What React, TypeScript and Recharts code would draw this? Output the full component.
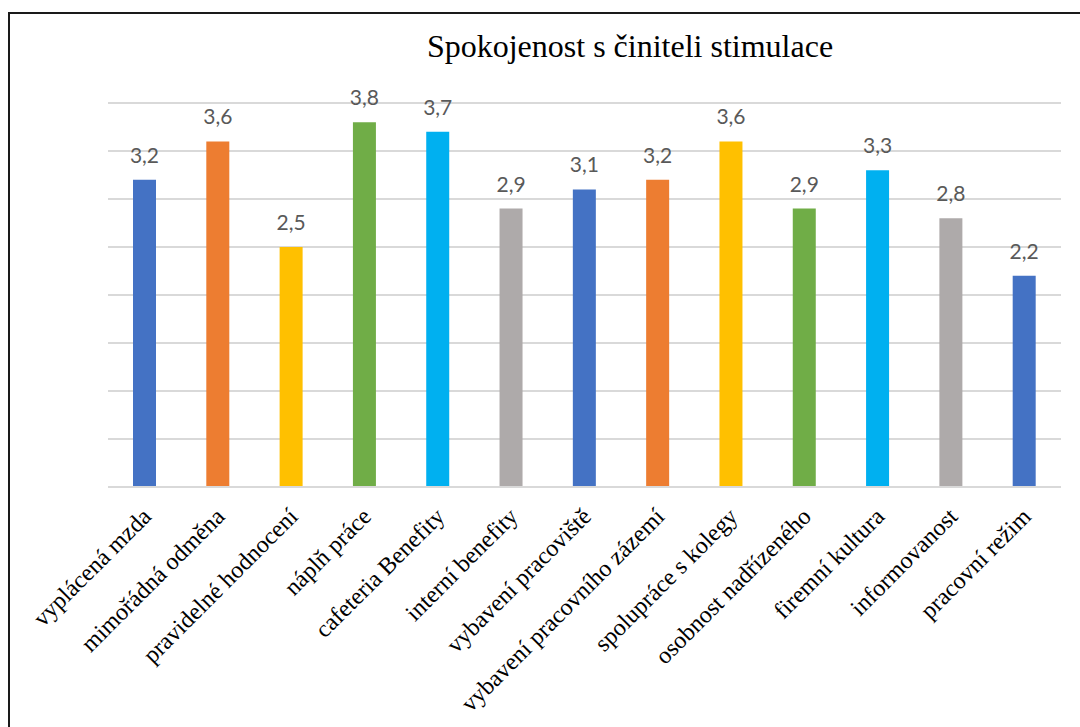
import React from 'react';
import { BarChart, Bar, XAxis, YAxis, CartesianGrid, LabelList, Cell } from 'recharts';

const categories = [
  'vyplácená mzda',
  'mimořádná odměna',
  'pravidelné hodnocení',
  'náplň práce',
  'cafeteria Benefity',
  'interní benefity',
  'vybavení pracoviště',
  'vybavení pracovního zázemí',
  'spolupráce s kolegy',
  'osobnost nadřízeného',
  'firemní kultura',
  'informovanost',
  'pracovní režim',
];

const scores = [3.2, 3.6, 2.5, 3.8, 3.7, 2.9, 3.1, 3.2, 3.6, 2.9, 3.3, 2.8, 2.2];

const barColors = [
  '#4472C4', '#ED7D31', '#FFC000', '#70AD47', '#00B0F0', '#AEAAAA',
  '#4472C4', '#ED7D31', '#FFC000', '#70AD47', '#00B0F0', '#AEAAAA', '#4472C4',
];

const yTicks = [0, 0.5, 1, 1.5, 2, 2.5, 3, 3.5, 4];

const data = categories.map((name, i) => ({ name, value: scores[i] }));

const fmt = (v: number) => v.toFixed(1).replace('.', ',');

const CategoryTick = (props: any) => {
  const { x, y, payload } = props;
  return (
    <g transform={`translate(${x + 8},${y + 23})`}>
      <text
        transform="rotate(-45)"
        textAnchor="end"
        fontFamily="'Liberation Serif', 'Times New Roman', serif"
        fontSize={24}
        fill="#000"
      >
        {payload.value}
      </text>
    </g>
  );
};

export default function App() {
  return (
    <div
      style={{
        position: 'absolute',
        left: 8,
        top: 12,
        width: 1072,
        height: 715,
        borderTop: '2px solid #1a1a1a',
        borderLeft: '2px solid #1a1a1a',
        background: '#fff',
      }}
    >
      <div
        style={{
          position: 'absolute',
          left: 0,
          width: 1240,
          top: 14,
          textAlign: 'center',
          fontFamily: "'Liberation Serif', 'Times New Roman', serif",
          fontSize: 32,
          color: '#000',
          whiteSpace: 'nowrap',
        }}
      >
        Spokojenost s činiteli stimulace
      </div>
      <BarChart
        width={1070}
        height={713}
        data={data}
        margin={{ top: 89, right: 19, left: 98, bottom: 0 }}
      >
        <CartesianGrid vertical={false} stroke="#D9D9D9" strokeWidth={2} />
        <YAxis hide domain={[0, 4]} ticks={yTicks} />
        <XAxis
          dataKey="name"
          interval={0}
          height={240}
          tickLine={false}
          axisLine={{ stroke: '#D9D9D9', strokeWidth: 2 }}
          tick={<CategoryTick />}
        />
        <Bar dataKey="value" barSize={23} isAnimationActive={false}>
          {data.map((d, i) => (
            <Cell key={d.name} fill={barColors[i]} />
          ))}
          <LabelList
            dataKey="value"
            position="top"
            offset={17}
            formatter={(v: any) => fmt(Number(v))}
            style={{ fontFamily: 'Lato, sans-serif', fontSize: 21, fill: '#595959' }}
          />
        </Bar>
      </BarChart>
    </div>
  );
}
